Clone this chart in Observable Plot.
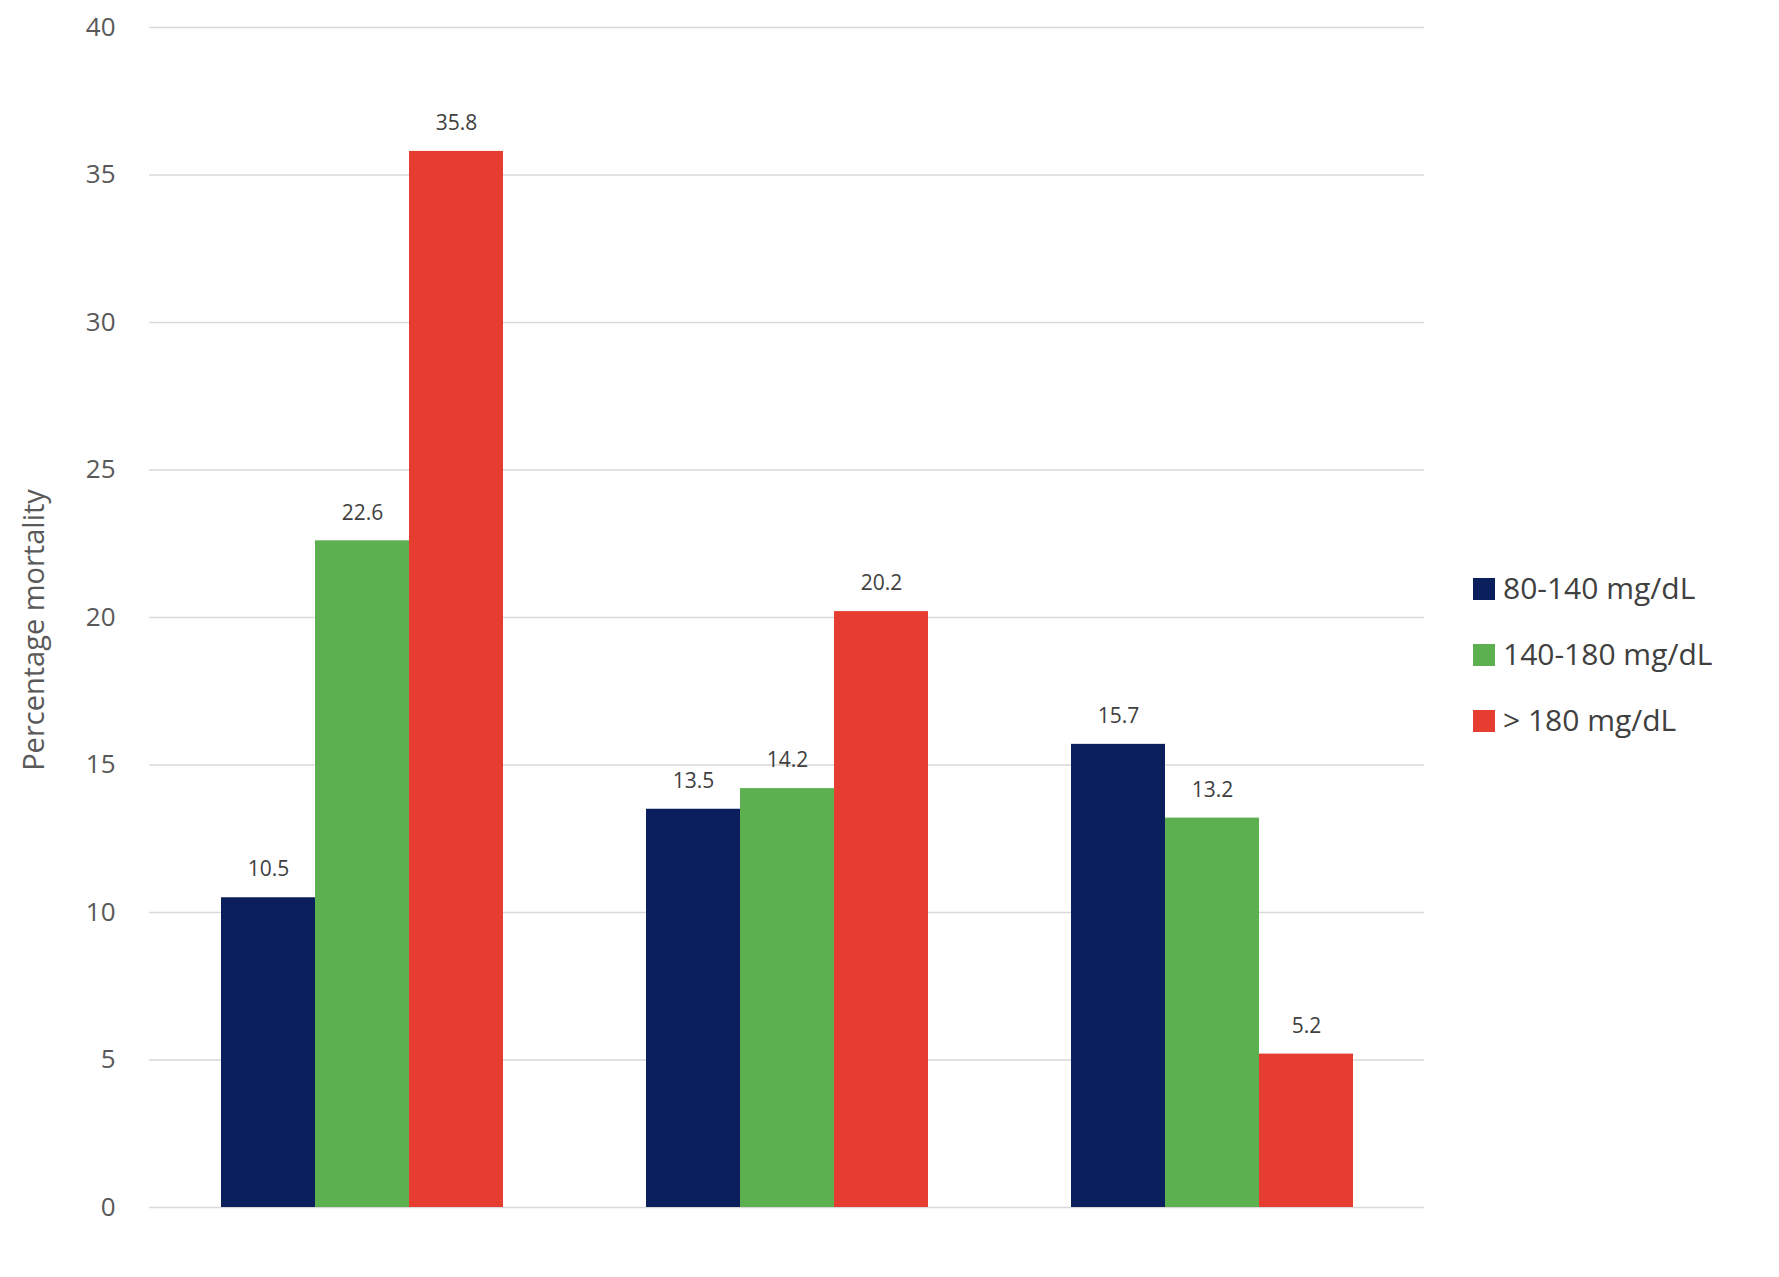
<!DOCTYPE html>
<html><head><meta charset="utf-8">
<script src="https://cdn.jsdelivr.net/npm/d3@7"></script>
<script src="https://cdn.jsdelivr.net/npm/@observablehq/plot@0.6"></script>
<style>
body{margin:0;background:#fff;font-family:"Open Sans",Lato,sans-serif;}
#wrap{position:relative;width:1779px;height:1277px;}
#legend{position:absolute;left:1473px;top:555px;font-size:30px;color:#404040;line-height:66px;}
#legend span.sw{display:inline-block;width:22px;height:22px;margin-right:8px;vertical-align:-1px;}
#ytitle{position:absolute;left:32px;top:630px;transform:translate(-50%,-50%) rotate(-90deg);font-size:29px;color:#595959;white-space:nowrap;}
</style></head><body>
<div id="wrap"><div id="legend"></div><div id="ytitle">Percentage mortality</div></div>
<script>
const categories = ["<6.5%", "6.5%-7.9%", "> 8.0%"];
const seriesNames = ["80-140 mg/dL", "140-180 mg/dL", "> 180 mg/dL"];
const colors = ["#0b1f5c", "#5cb050", "#e53d30"];
const s1 = [10.5, 13.5, 15.7];
const s2 = [22.6, 14.2, 13.2];
const s3 = [35.8, 20.2, 5.2];
const yTicks = [0,5,10,15,20,25,30,35,40];

const data = [];
[s1,s2,s3].forEach((s,i)=>s.forEach((v,j)=>data.push({cat:categories[j], series:seriesNames[i], value:v})));

const chart = Plot.plot({
  width:1779, height:1277,
  marginLeft:148, marginRight:354, marginTop:27, marginBottom:70,
  style:{fontFamily:"'Open Sans',Lato,sans-serif", color:"#595959", fontSize:"26px"},
  fx:{domain:categories, padding:0, label:null, axis:null},
  x:{domain:seriesNames, paddingInner:0, paddingOuter:0.75, axis:null},
  y:{domain:[0,40], ticks:yTicks, label:null, axis:null},
  color:{domain:seriesNames, range:colors},
  marks:[
    Plot.ruleY(yTicks,{stroke:"#d9d9d9", strokeWidth:1.5}),
    Plot.barY(data,{fx:"cat", x:"series", y:"value", fill:"series"}),
    Plot.text(data,{fx:"cat", x:"series", y:"value", text:d=>d.value.toFixed(1), dy:-28, fontSize:21, fill:"#404040"}),
    Plot.axisY({ticks:yTicks, tickSize:0, tickPadding:34, fontSize:26, label:null}),
    Plot.axisFx({tickSize:0, tickPadding:32, fontSize:26, label:null})
  ]
});
document.getElementById("wrap").prepend(chart);
const lg = document.getElementById("legend");
seriesNames.forEach((n,i)=>{const d=document.createElement("div");d.innerHTML=`<span class="sw" style="background:${colors[i]}"></span>${n}`;lg.appendChild(d);});
</script>
</body></html>
